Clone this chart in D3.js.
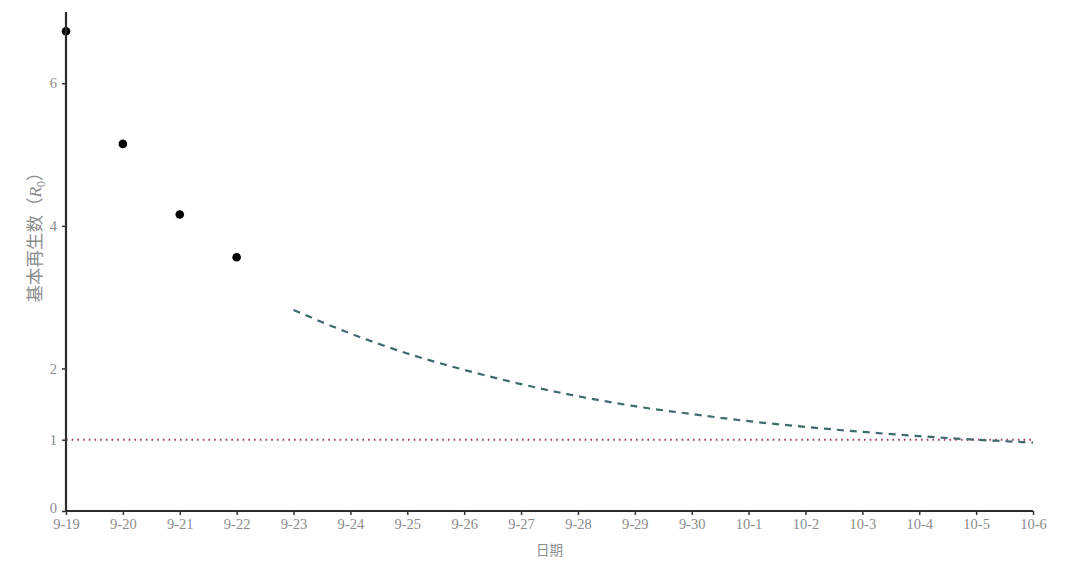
<!DOCTYPE html>
<html><head><meta charset="utf-8">
<script src="https://cdn.jsdelivr.net/npm/d3@7"></script>
<style>body{margin:0;background:#fff}svg{display:block}</style>
</head><body>
<svg id="c" width="1080" height="565"></svg>
<script>
const dates = ["9-19","9-20","9-21","9-22","9-23","9-24","9-25","9-26","9-27","9-28","9-29","9-30","10-1","10-2","10-3","10-4","10-5","10-6"];
const observedDates = ["9-19","9-20","9-21","9-22"];
const observedR0 = [6.73, 5.15, 4.16, 3.56];
const forecastDates = ["9-23","9-24","9-25","9-26","9-27","9-28","9-29","9-30","10-1","10-2","10-3","10-4","10-5","10-6"];
const forecastR0 = [2.82, 2.49, 2.21, 1.98, 1.78, 1.61, 1.47, 1.36, 1.26, 1.18, 1.11, 1.05, 1.00, 0.96];
const yTicks = [0, 1, 2, 4, 6];
const threshold = 1;

const svg = d3.select("#c");
const m = {l:66, r:47, t:12, b:54};
const W = 1080, H = 565;
const x = d3.scalePoint().domain(dates).range([m.l, W - m.r]);
const y = d3.scaleLinear().domain([0, 7]).range([H - m.b, m.t]);

// threshold dotted line
svg.append("line")
  .attr("x1", x(dates[0])).attr("x2", x(dates[dates.length-1]))
  .attr("y1", y(threshold)).attr("y2", y(threshold))
  .attr("stroke", "#9a3a5e").attr("stroke-width", 2)
  .attr("stroke-dasharray", "1.6,4.1").attr("stroke-linecap", "butt");

// forecast dashed curve
const line = d3.line().x(d => x(d[0])).y(d => y(d[1])).curve(d3.curveMonotoneX);
svg.append("path")
  .datum(forecastDates.map((d, i) => [d, forecastR0[i]]))
  .attr("d", line).attr("fill", "none")
  .attr("stroke", "#3f6b6d").attr("stroke-width", 2.2)
  .attr("stroke-dasharray", "7,6");

// observed points
svg.selectAll("circle.obs").data(observedDates).enter().append("circle")
  .attr("class", "obs")
  .attr("cx", d => x(d)).attr("cy", (d, i) => y(observedR0[i]))
  .attr("r", 4.3).attr("fill", "#000");

// axes
const fontSerif = "'Liberation Serif','DejaVu Serif',serif";
const yAxis = svg.append("g").attr("transform", `translate(${m.l},0)`)
  .call(d3.axisLeft(y).tickValues(yTicks).tickSize(4).tickPadding(5).tickFormat(d3.format("d")));
const xAxis = svg.append("g").attr("transform", `translate(0,${H - m.b})`)
  .call(d3.axisBottom(x).tickSize(4).tickPadding(4));
[yAxis, xAxis].forEach(g => {
  g.select(".domain").attr("stroke", "#2b2b2b").attr("stroke-width", 2.2);
  g.selectAll(".tick line").attr("stroke", "#333").attr("stroke-width", 1.5);
  g.selectAll(".tick text").attr("fill", "#8c8c8c").style("font-family", fontSerif).style("font-size", "14.5px");
});
yAxis.selectAll(".tick").filter(d => d === 0).select("text").attr("dy", "0.1em");
yAxis.select(".domain").attr("d", `M0,${y(7)}V${y(0)}`);
xAxis.select(".domain").attr("d", `M${x(dates[0])},0H${x(dates[dates.length-1])}`);

// axis titles
const yt = svg.append("text")
  .attr("transform", `translate(41,233) rotate(-90)`)
  .attr("text-anchor", "middle").attr("fill", "#8c8c8c")
  .style("font-family", "'Noto Sans CJK SC', sans-serif").style("font-size", "17.5px");
yt.append("tspan").text("基本再生数（");
yt.append("tspan").text("R").style("font-style", "italic").style("font-family", fontSerif);
yt.append("tspan").text("0").attr("dy", 4).style("font-size", "12px").style("font-family", fontSerif);
yt.append("tspan").text("）").attr("dy", -4);

svg.append("text")
  .attr("x", (x("9-27") + x("9-28")) / 2).attr("y", 555)
  .attr("text-anchor", "middle").attr("fill", "#8c8c8c")
  .style("font-family", "'Noto Sans CJK SC', sans-serif").style("font-size", "13.5px")
  .text("日期");
</script>
</body></html>
